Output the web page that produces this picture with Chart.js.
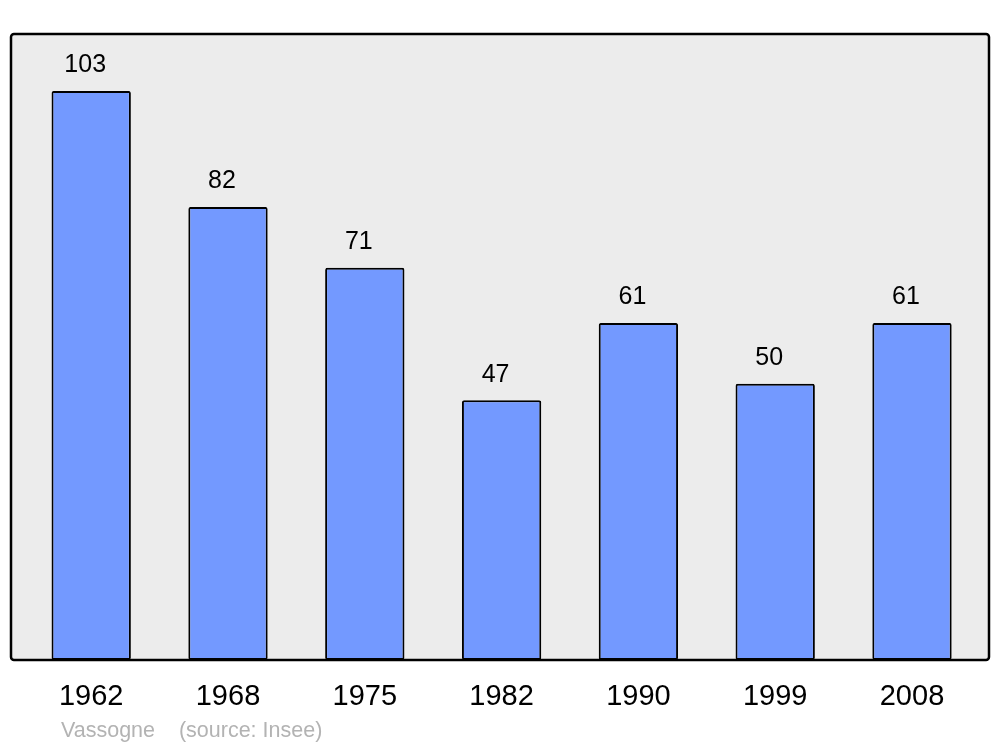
<!DOCTYPE html>
<html>
<head>
<meta charset="utf-8">
<script src="https://cdn.jsdelivr.net/npm/chart.js@4/dist/chart.umd.min.js"></script>
<style>
  html, body { margin: 0; padding: 0; background: #ffffff; }
  #wrap { width: 1000px; height: 747px; }
</style>
</head>
<body>
<div id="wrap"><canvas id="popChart" width="1000" height="747"></canvas></div>
<script>
// data
const years = ['1962', '1968', '1975', '1982', '1990', '1999', '2008'];
const population = [103, 82, 71, 47, 61, 50, 61];
const caption = 'Vassogne    (source: Insee)';

const FONT = '"Liberation Sans", Arial, sans-serif';

// grey panel behind the bars, black frame on top
const framePlugin = {
    id: 'frame',
    beforeDatasetsDraw(chart) {
        const ctx = chart.ctx;
        const a = chart.chartArea;
        ctx.save();
        ctx.beginPath();
        ctx.roundRect(11, a.top, 978, a.bottom - a.top, 3);
        ctx.fillStyle = '#ececec';
        ctx.fill();
        ctx.restore();
    },
    afterDatasetsDraw(chart) {
        const ctx = chart.ctx;
        const a = chart.chartArea;
        ctx.save();
        ctx.beginPath();
        ctx.roundRect(11, a.top, 978, a.bottom - a.top, 3);
        ctx.lineWidth = 2.5;
        ctx.strokeStyle = '#000000';
        ctx.stroke();
        ctx.restore();
    }
};

// value above each bar + caption under the axis
const labelPlugin = {
    id: 'valueLabels',
    afterDraw(chart) {
        const ctx = chart.ctx;
        ctx.save();
        ctx.font = '25px ' + FONT;
        ctx.fillStyle = '#000000';
        ctx.textAlign = 'center';
        ctx.textBaseline = 'middle';
        chart.getDatasetMeta(0).data.forEach((bar, i) => {
            ctx.fillText(String(population[i]), bar.x - 6, bar.y - 25.5);
        });
        ctx.font = '21.5px ' + FONT;
        ctx.fillStyle = '#b3b3b3';
        ctx.textAlign = 'left';
        ctx.fillText(caption, 61, 731);
        ctx.restore();
    }
};

const ctx = document.getElementById('popChart').getContext('2d');
new Chart(ctx, {
    type: 'bar',
    data: {
        labels: years,
        datasets: [{
            data: population,
            backgroundColor: '#7399ff',
            borderColor: '#000000',
            borderWidth: 2,
            borderRadius: 2,
            borderSkipped: false,
            barPercentage: 0.58,
            categoryPercentage: 1
        }]
    },
    options: {
        responsive: false,
        animation: false,
        layout: {
            padding: { left: 22.8, right: 19.6, top: 34, bottom: 0 }
        },
        plugins: {
            legend: { display: false },
            tooltip: { enabled: false }
        },
        scales: {
            x: {
                grid: { display: false, drawTicks: false },
                border: { display: false },
                ticks: {
                    color: '#000000',
                    font: { family: FONT, size: 29 },
                    padding: 20,
                    maxRotation: 0
                },
                afterFit(scale) { scale.height = 87; }
            },
            y: {
                display: false,
                min: 0,
                max: 113.3
            }
        }
    },
    plugins: [framePlugin, labelPlugin]
});
</script>
</body>
</html>
